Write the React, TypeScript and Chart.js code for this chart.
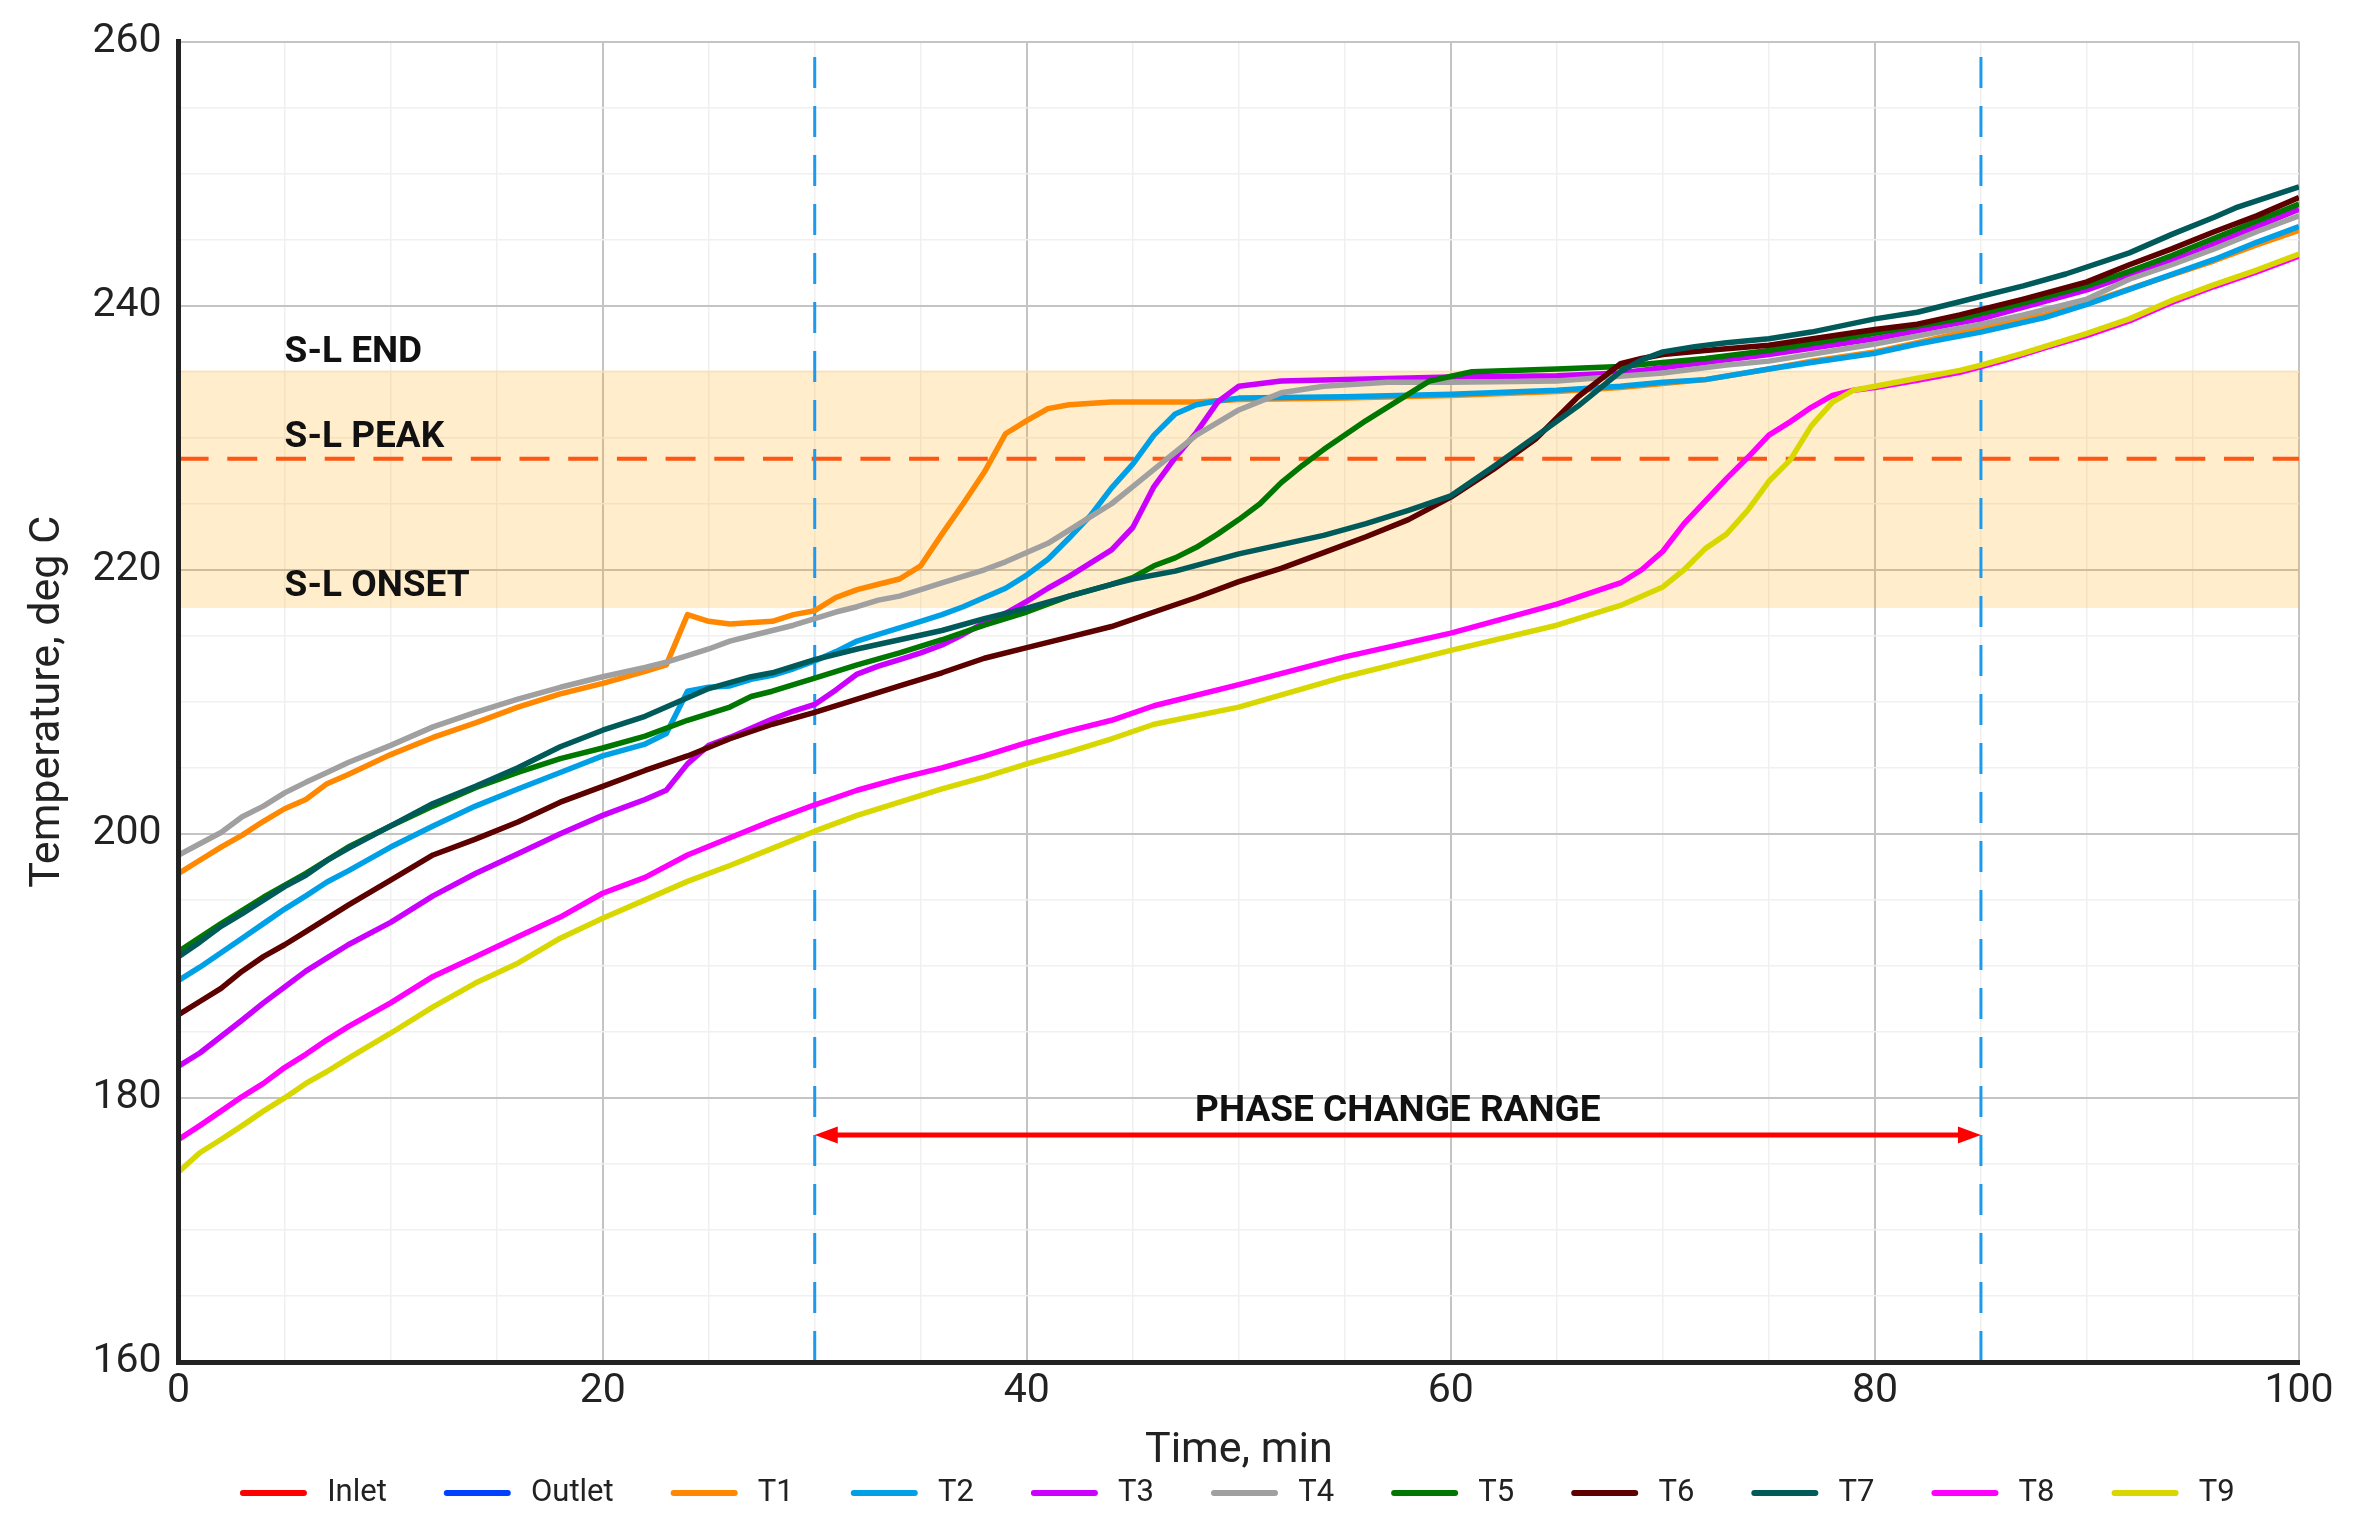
import React, { useEffect, useRef } from 'react';
import { Chart, registerables } from 'chart.js';

Chart.register(...registerables);

// ---------- data (time in min, temperature in deg C) ----------
const SERIES_NAMES = ['Inlet', 'Outlet', 'T1', 'T2', 'T3', 'T4', 'T5', 'T6', 'T7', 'T8', 'T9'];
const SERIES_COLORS = ['#ff0000', '#0040ff', '#ff8800', '#00a0e6', '#cc00ff', '#a0a0a0', '#007700', '#5c0000', '#005a5a', '#ff00ff', '#d8d800'];

const INLET: number[][] = [];
const OUTLET: number[][] = [];
const T1 = [[0,197.0],[1,198.0],[2,199.0],[3,199.9],[4,200.95],[5,201.9],[6,202.6],[7,203.8],[8,204.5],[10,206.0],[12,207.3],[14,208.4],[16,209.6],[18,210.6],[20,211.4],[21,211.85],[22,212.3],[23,212.8],[24,216.6],[25,216.1],[26,215.9],[28,216.1],[29,216.6],[30,216.9],[31,217.9],[32,218.5],[33,218.9],[34,219.3],[35,220.3],[36,222.7],[37,225.0],[38,227.4],[39,230.3],[40,231.3],[41,232.2],[42,232.5],[44,232.7],[48,232.7],[50,232.9],[55,233.0],[60,233.2],[65,233.5],[68,233.8],[70,234.1],[72,234.4],[75,235.2],[77,235.8],[80,236.5],[82,237.2],[85,238.3],[88,239.3],[90,240.2],[93,241.8],[96,243.4],[98,244.6],[100,245.7]];
const T2 = [[0,188.9],[1,189.9],[2,191.0],[3,192.1],[4,193.2],[5,194.3],[6,195.3],[7,196.35],[8,197.2],[10,199.0],[12,200.6],[14,202.1],[16,203.4],[18,204.65],[20,205.9],[22,206.8],[23,207.6],[24,210.8],[25,211.1],[26,211.2],[27,211.7],[28,212.0],[29,212.5],[30,213.1],[31,213.8],[32,214.6],[33,215.1],[34,215.6],[35,216.1],[36,216.6],[37,217.2],[38,217.9],[39,218.6],[40,219.6],[41,220.8],[42,222.4],[43,224.1],[44,226.2],[45,228.0],[46,230.2],[47,231.8],[48,232.5],[49,232.8],[50,233.0],[55,233.1],[60,233.3],[65,233.6],[68,233.9],[70,234.2],[72,234.4],[75,235.2],[77,235.7],[80,236.4],[82,237.1],[85,238.0],[88,239.1],[90,240.1],[93,241.8],[96,243.5],[98,244.8],[100,246.0]];
const T3 = [[0,182.4],[1,183.4],[2,184.65],[3,185.9],[4,187.2],[5,188.4],[6,189.6],[7,190.6],[8,191.6],[10,193.3],[12,195.3],[14,197.0],[16,198.5],[18,200.0],[20,201.4],[21,202.0],[22,202.6],[23,203.3],[24,205.3],[25,206.7],[26,207.3],[27,208.0],[28,208.7],[29,209.3],[30,209.8],[31,210.9],[32,212.1],[33,212.7],[34,213.2],[35,213.7],[36,214.3],[37,215.1],[38,216.0],[39,216.7],[40,217.6],[41,218.6],[42,219.5],[43,220.5],[44,221.5],[45,223.2],[46,226.3],[47,228.5],[48,230.4],[49,232.7],[50,233.9],[52,234.3],[60,234.6],[65,234.7],[68,234.9],[70,235.3],[73,235.9],[75,236.3],[80,237.5],[85,239.0],[90,241.2],[95,244.0],[100,247.3]];
const T4 = [[0,198.4],[1,199.25],[2,200.1],[3,201.3],[4,202.1],[5,203.1],[6,203.9],[7,204.65],[8,205.4],[10,206.7],[12,208.1],[14,209.2],[16,210.2],[18,211.1],[20,211.9],[22,212.6],[23,213.0],[24,213.5],[25,214.0],[26,214.6],[27,215.0],[28,215.4],[29,215.8],[30,216.3],[31,216.8],[32,217.2],[33,217.7],[34,218.0],[35,218.5],[36,219.0],[37,219.5],[38,220.0],[39,220.6],[40,221.3],[41,222.0],[42,223.0],[43,224.0],[44,225.0],[45,226.3],[46,227.6],[47,228.9],[48,230.2],[50,232.1],[52,233.4],[54,233.9],[57,234.2],[60,234.2],[65,234.3],[70,234.9],[73,235.5],[75,235.8],[80,237.1],[85,238.6],[87,239.3],[90,240.5],[92,242.0],[94,243.1],[96,244.3],[98,245.6],[100,246.8]];
const T5 = [[0,191.1],[2,193.2],[4,195.2],[6,197.0],[8,199.0],[10,200.6],[12,202.1],[14,203.5],[16,204.65],[18,205.7],[20,206.5],[22,207.4],[24,208.6],[26,209.6],[27,210.4],[28,210.8],[30,211.8],[32,212.8],[34,213.7],[36,214.7],[38,215.8],[40,216.8],[42,218.0],[44,218.9],[45,219.4],[46,220.3],[47,220.9],[48,221.7],[49,222.7],[50,223.8],[51,225.0],[52,226.6],[53,227.9],[54,229.1],[56,231.3],[58,233.3],[59,234.3],[61,235.0],[65,235.2],[68,235.4],[70,235.7],[72,236.0],[75,236.6],[80,237.9],[84,239.0],[85,239.4],[87,240.2],[90,241.5],[92,242.6],[94,243.8],[96,245.1],[98,246.4],[100,247.7]];
const T6 = [[0,186.3],[1,187.3],[2,188.3],[3,189.6],[4,190.7],[5,191.6],[6,192.6],[7,193.6],[8,194.6],[10,196.5],[12,198.4],[14,199.6],[16,200.9],[18,202.4],[20,203.6],[22,204.8],[24,205.9],[26,207.2],[28,208.3],[30,209.2],[32,210.2],[34,211.2],[36,212.2],[38,213.3],[40,214.1],[42,214.9],[44,215.7],[46,216.8],[48,217.9],[50,219.1],[52,220.1],[54,221.3],[56,222.5],[58,223.8],[60,225.5],[62,227.6],[64,229.9],[66,233.1],[68,235.6],[69,236.0],[70,236.3],[72,236.6],[75,237.0],[80,238.2],[82,238.6],[84,239.3],[85,239.7],[87,240.5],[90,241.8],[92,243.1],[94,244.3],[96,245.6],[98,246.8],[100,248.2]];
const T7 = [[0,190.7],[1,191.8],[2,193.0],[3,193.96],[4,194.97],[5,196.0],[6,196.86],[7,197.99],[8,198.9],[10,200.6],[12,202.3],[14,203.6],[16,205.0],[18,206.6],[20,207.85],[22,208.9],[23,209.6],[25,211.0],[27,211.9],[28,212.2],[30,213.2],[32,214.0],[34,214.7],[36,215.4],[38,216.3],[40,217.1],[42,218.0],[44,218.9],[45,219.3],[47,219.9],[50,221.2],[52,221.9],[54,222.6],[56,223.5],[58,224.5],[60,225.6],[62,227.8],[64,230.1],[66,232.4],[68,235.0],[69,235.9],[70,236.5],[71.5,236.9],[73,237.2],[75,237.5],[77,238.0],[80,239.0],[82,239.5],[84,240.3],[85,240.7],[87,241.5],[89,242.4],[92,244.0],[94,245.4],[96,246.7],[97,247.4],[100,249.0]];
const T8 = [[0,176.85],[1,177.9],[2,179.0],[3,180.1],[4,181.1],[5,182.3],[6,183.3],[7,184.4],[8,185.4],[10,187.2],[12,189.2],[14,190.7],[16,192.2],[18,193.7],[20,195.5],[22,196.7],[24,198.4],[26,199.7],[28,201.0],[30,202.2],[32,203.3],[34,204.2],[36,205.0],[38,205.9],[40,206.9],[42,207.8],[44,208.6],[46,209.7],[50,211.3],[55,213.4],[60,215.2],[65,217.4],[68,219.0],[69,220.0],[70,221.4],[71,223.5],[72,225.2],[73,226.9],[74,228.5],[75,230.2],[76,231.2],[77,232.3],[78,233.2],[79,233.6],[80,233.8],[82,234.35],[84,234.95],[86,235.8],[88,236.8],[90,237.75],[92,238.85],[94,240.25],[96,241.45],[98,242.55],[100,243.75]];
const T9 = [[0,174.4],[1,175.85],[2,176.85],[3,177.9],[4,179.0],[5,180.0],[6,181.1],[7,182.0],[8,183.0],[10,184.9],[12,186.9],[14,188.7],[16,190.2],[18,192.1],[20,193.6],[22,195.0],[24,196.4],[26,197.6],[28,198.9],[30,200.2],[32,201.4],[34,202.4],[36,203.4],[38,204.3],[40,205.3],[42,206.2],[44,207.2],[46,208.3],[50,209.6],[55,211.9],[60,213.9],[65,215.8],[68,217.3],[70,218.7],[71,220.0],[72,221.6],[73,222.7],[74,224.5],[75,226.7],[76,228.3],[77,230.9],[78,232.7],[79,233.6],[80,233.9],[82,234.5],[84,235.1],[85,235.5],[87,236.4],[90,237.9],[92,239.0],[94,240.4],[96,241.6],[98,242.7],[100,243.9]];

const SERIES_POINTS = [INLET, OUTLET, T1, T2, T3, T4, T5, T6, T7, T8, T9];

const X_TICKS = [0, 20, 40, 60, 80, 100];
const Y_TICKS = [160, 180, 200, 220, 240, 260];

// annotation values
const SL_ONSET = 217.1;
const SL_PEAK = 228.4;
const SL_END = 235.1;
const SL_LABELS = ['S-L END', 'S-L PEAK', 'S-L ONSET'];
const SL_LABEL_TEMPS = [235.7, 229.3, 218.0];
const SL_LABEL_TIME = 5;
const PHASE_START = 30;
const PHASE_END = 85;
const PHASE_ARROW_TEMP = 177.2;
const PHASE_LABEL = 'PHASE CHANGE RANGE';
const PHASE_LABEL_TEMP = 178.25;

const FONT = 'Roboto';

const annotationPlugin = {
  id: 'phaseAnnotations',
  beforeDatasetsDraw(chart: any) {
    const { ctx, chartArea: a, scales } = chart;
    const x = scales.x;
    const y = scales.y;
    ctx.save();
    ctx.beginPath();
    ctx.rect(a.left, a.top, a.right - a.left, a.bottom - a.top);
    ctx.clip();
    const yTop = y.getPixelForValue(SL_END);
    const yBot = y.getPixelForValue(SL_ONSET);
    ctx.fillStyle = 'rgba(255,165,0,0.2)';
    ctx.fillRect(a.left, yTop, a.right - a.left, yBot - yTop);

    const yp = y.getPixelForValue(SL_PEAK);
    ctx.strokeStyle = '#ff5511';
    ctx.lineWidth = 4;
    ctx.setLineDash([30, 18.7]);
    ctx.beginPath();
    ctx.moveTo(a.left, yp);
    ctx.lineTo(a.right, yp);
    ctx.stroke();

    ctx.strokeStyle = '#1b9af0';
    ctx.lineWidth = 3;
    ctx.setLineDash([31, 18]);
    for (const t of [PHASE_START, PHASE_END]) {
      const px = x.getPixelForValue(t);
      ctx.beginPath();
      ctx.moveTo(px, a.bottom);
      ctx.lineTo(px, a.top);
      ctx.stroke();
    }
    ctx.restore();
  },
  afterDatasetsDraw(chart: any) {
    const { ctx, scales } = chart;
    const x = scales.x;
    const y = scales.y;
    ctx.save();
    ctx.font = `bold 37px ${FONT}`;
    ctx.fillStyle = '#111111';
    ctx.textBaseline = 'alphabetic';
    ctx.textAlign = 'left';
    SL_LABELS.forEach((lbl, i) => {
      ctx.fillText(lbl, x.getPixelForValue(SL_LABEL_TIME), y.getPixelForValue(SL_LABEL_TEMPS[i]));
    });

    const x0 = x.getPixelForValue(PHASE_START);
    const x1 = x.getPixelForValue(PHASE_END);
    const ya = y.getPixelForValue(PHASE_ARROW_TEMP);
    const head = 23;
    const half = 8.5;
    ctx.strokeStyle = '#ff0000';
    ctx.fillStyle = '#ff0000';
    ctx.lineWidth = 5;
    ctx.beginPath();
    ctx.moveTo(x0 + head - 2, ya);
    ctx.lineTo(x1 - head + 2, ya);
    ctx.stroke();
    ctx.beginPath();
    ctx.moveTo(x0, ya);
    ctx.lineTo(x0 + head, ya - half);
    ctx.lineTo(x0 + head, ya + half);
    ctx.closePath();
    ctx.fill();
    ctx.beginPath();
    ctx.moveTo(x1, ya);
    ctx.lineTo(x1 - head, ya - half);
    ctx.lineTo(x1 - head, ya + half);
    ctx.closePath();
    ctx.fill();

    ctx.fillStyle = '#111111';
    ctx.textAlign = 'center';
    ctx.fillText(PHASE_LABEL, (x0 + x1) / 2, y.getPixelForValue(PHASE_LABEL_TEMP));
    ctx.restore();
  },
};

export default function App() {
  const ref = useRef<HTMLCanvasElement>(null);

  useEffect(() => {
    if (!ref.current) return;
    const n = SERIES_NAMES.length;
    const datasets = SERIES_NAMES.map((name, i) => ({
      label: name,
      data: SERIES_POINTS[i].map(([t, v]) => ({ x: t, y: v })),
      borderColor: SERIES_COLORS[i],
      backgroundColor: SERIES_COLORS[i],
      borderWidth: 5.5,
      pointRadius: 0,
      pointHoverRadius: 0,
      tension: 0,
      fill: false,
      borderJoinStyle: 'round' as const,
      order: n - 1 - i,
    }));

    const chart = new Chart(ref.current, {
      type: 'line',
      data: { datasets },
      plugins: [annotationPlugin],
      options: {
        animation: false,
        responsive: false,
        devicePixelRatio: 1,
        layout: { padding: { left: 0, right: 57, top: 36.6, bottom: 19.5 } },
        plugins: {
          tooltip: { enabled: false },
          legend: {
            position: 'bottom',
            fullSize: false,
            labels: {
              usePointStyle: true,
              pointStyle: 'line',
              pointStyleWidth: 61,
              boxWidth: 61,
              padding: 60,
              color: '#222222',
              font: { family: FONT, size: 31 },
              generateLabels: (c: any) =>
                c.data.datasets.map((ds: any, i: number) => ({
                  text: ' ' + ds.label,
                  fillStyle: ds.borderColor,
                  strokeStyle: ds.borderColor,
                  fontColor: '#222222',
                  lineWidth: 6,
                  lineCap: 'round',
                  pointStyle: 'line',
                  hidden: false,
                  datasetIndex: i,
                })),
            },
          },
        },
        scales: {
          x: {
            type: 'linear',
            min: 0,
            max: 100,
            ticks: {
              stepSize: 5,
              autoSkip: false,
              maxRotation: 0,
              padding: 5,
              color: '#222222',
              font: { family: FONT, size: 41 },
              callback: (v: any) => (X_TICKS.includes(Number(v)) ? String(v) : ''),
            },
            grid: {
              drawTicks: false,
              color: (c: any) => (X_TICKS.includes(c.tick?.value) ? '#c4c4c4' : '#f0f0f0'),
              lineWidth: (c: any) => (X_TICKS.includes(c.tick?.value) ? 2 : 1.5),
            },
            border: { display: true, color: '#222222', width: 5, z: 1 },
            title: {
              display: true,
              text: 'Time, min',
              color: '#222222',
              font: { family: FONT, size: 43 },
              padding: { top: 0, bottom: -59.3 },
            },
            afterFit: (s: any) => {
              s.height = 55.5;
            },
          },
          y: {
            type: 'linear',
            min: 160,
            max: 260,
            ticks: {
              stepSize: 5,
              autoSkip: false,
              padding: 17,
              color: '#222222',
              font: { family: FONT, size: 41 },
              callback: (v: any) => (Y_TICKS.includes(Number(v)) ? String(v) : ''),
            },
            grid: {
              drawTicks: false,
              color: (c: any) => (Y_TICKS.includes(c.tick?.value) ? '#c4c4c4' : '#f0f0f0'),
              lineWidth: (c: any) => (Y_TICKS.includes(c.tick?.value) ? 2 : 1.5),
            },
            border: { display: true, color: '#222222', width: 5, z: 1 },
            title: {
              display: true,
              text: 'Temperature, deg C',
              color: '#222222',
              font: { family: FONT, size: 43 },
              padding: { top: 22.9, bottom: 0 },
            },
            afterFit: (s: any) => {
              s.width = 178.6;
            },
          },
        },
      } as any,
    });

    return () => chart.destroy();
  }, []);

  return (
    <div style={{ position: 'fixed', left: 0, top: 0, width: 2356, height: 1538, background: '#ffffff' }}>
      <canvas ref={ref} width={2356} height={1538} style={{ display: 'block', width: '2356px', height: '1538px' }} />
    </div>
  );
}
